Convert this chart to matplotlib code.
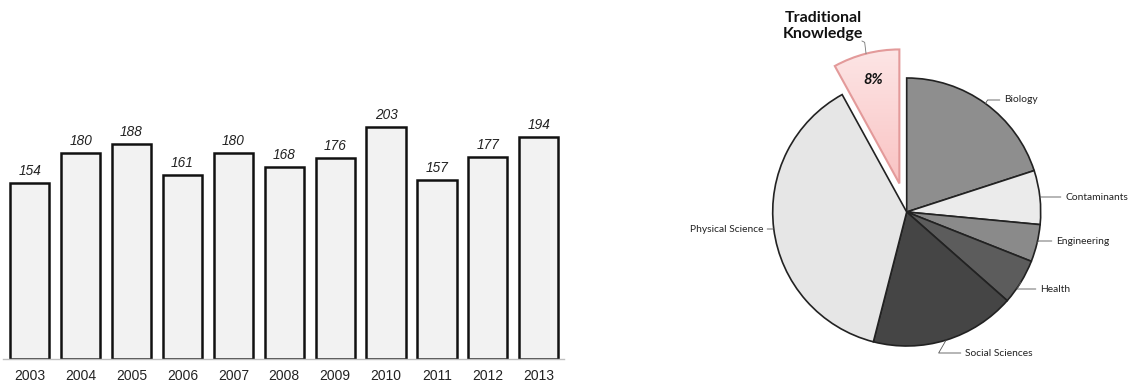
import numpy as np
import matplotlib
matplotlib.use("Agg")
import matplotlib.pyplot as plt
from matplotlib.colors import LinearSegmentedColormap

# ---------------- data ----------------
years = ["2003", "2004", "2005", "2006", "2007", "2008", "2009", "2010", "2011", "2012", "2013"]
counts = [154, 180, 188, 161, 180, 168, 176, 203, 157, 177, 194]

pie_labels = ["Biology", "Contaminants", "Engineering", "Health",
              "Social Sciences", "Physical Science", "Traditional\nKnowledge"]
pie_values = [20, 6.5, 4.5, 5.5, 17.5, 38, 8]
pie_colors = ["#8e8e8e", "#ebebeb", "#8a8a8a", "#5c5c5c", "#454545", "#e6e6e6", "#fbd3d3"]

W, H = 1129, 383
fig = plt.figure(figsize=(W / 100, H / 100), dpi=100)
fig.patch.set_facecolor("white")

# ---------------- bar chart ----------------
ax1 = fig.add_axes([3 / W, 24 / H, 561 / W, 252 / H])
x = np.arange(len(years))
ax1.bar(x, counts, width=0.77, color="#f2f2f2", edgecolor="#111111", linewidth=1.8, zorder=2)
ax1.set_xlim(-0.525, len(years) - 0.505)
ax1.set_ylim(0, 252 / 1.143)
for s in ["top", "right", "left"]:
    ax1.spines[s].set_visible(False)
ax1.spines["bottom"].set_color("#bfbfbf")
ax1.spines["bottom"].set_linewidth(1.0)
ax1.set_yticks([])
ax1.set_xticks(x)
ax1.set_xticklabels(years, fontsize=10, family="Liberation Sans", color="#222222")
ax1.tick_params(axis="x", length=0, pad=7)
for xi, v in zip(x, counts):
    ax1.annotate(str(v), (xi, v), xytext=(0, 3.5), textcoords="offset points",
                 ha="center", va="bottom", fontsize=9.8, style="italic",
                 family="Liberation Sans", color="#222222", annotation_clip=False)

# ---------------- pie chart ----------------
cx, cy, R = 906.7, 212.0, 134.0
ax2 = fig.add_axes([640 / W, 0, 489 / W, 1])
explode = [0, 0, 0, 0, 0, 0, 0.22]
wedges, _ = ax2.pie(pie_values, colors=pie_colors, startangle=90, counterclock=False,
                    explode=explode, radius=1.0,
                    wedgeprops=dict(edgecolor="#222222", linewidth=1.2))
ax2.set_aspect("auto")
ax2.axis("off")

# TK wedge styling: gradient fill
tk = wedges[-1]
tk.set_edgecolor("#e39a9a")
tk.set_linewidth(1.5)
tk.set_facecolor("none")
grad = np.linspace(0, 1, 256).reshape(-1, 1)
cmap = LinearSegmentedColormap.from_list("pk", ["#fdeaea", "#f9bfbf"])
im = ax2.imshow(grad, extent=(-0.6, 0.1, 0.1, 1.35), cmap=cmap, aspect="auto",
                origin="upper", zorder=0.5)
im.set_clip_path(tk)
ax2.set_aspect("auto")
ax2.set_xlim((640 - cx) / R, (1129 - cx) / R)
ax2.set_ylim((cy - 383) / R, (cy - 0) / R)

def px(xp, yp):
    return ((xp - cx) / R, (cy - yp) / R)

# label text positions (layout)
text_pos = {
    "Biology": (px(1004, 100), "left"),
    "Contaminants": (px(1065, 197), "left"),
    "Engineering": (px(1056, 241), "left"),
    "Health": (px(1040, 289), "left"),
    "Social Sciences": (px(965, 353), "left"),
    "Physical Science": (px(763, 229), "right"),
}
for w, lab in zip(wedges[:-1], pie_labels[:-1]):
    ang = np.deg2rad((w.theta1 + w.theta2) / 2)
    ex, ey = np.cos(ang), np.sin(ang)
    (tx, ty), ha = text_pos[lab]
    ax2.annotate(lab, xy=(ex, ey), xytext=(tx, ty), ha=ha, va="center",
                 fontsize=7.4, family="Lato", color="#222222",
                 arrowprops=dict(arrowstyle="-", color="#555555", lw=0.6,
                                 connectionstyle="angle,angleA=0,angleB=60,rad=0",
                                 shrinkA=1, shrinkB=0))

# Traditional Knowledge label + percentage
ang = np.deg2rad((tk.theta1 + tk.theta2) / 2)
ocx, ocy = tk.center
tot = sum(pie_values)
ax2.text(ocx + 0.8 * np.cos(ang), ocy + 0.8 * np.sin(ang),
         f"{pie_values[-1] / tot * 100:.0f}%", ha="center", va="center",
         fontsize=10.5, weight="bold", style="italic", family="Lato", color="#111111")
ax2.text(*px(823, 26), pie_labels[-1], ha="center", va="center",
         fontsize=11.5, weight="bold", family="Lato", color="#111111", linespacing=1.2)
edge_pt = (ocx + np.cos(ang), ocy + np.sin(ang))
lx, ly = px(862, 41)
ax2.plot([edge_pt[0], lx + 0.02, lx], [edge_pt[1], ly - 0.01, ly], color="#777777", lw=0.6)

fig.savefig("out.png", dpi=100)
